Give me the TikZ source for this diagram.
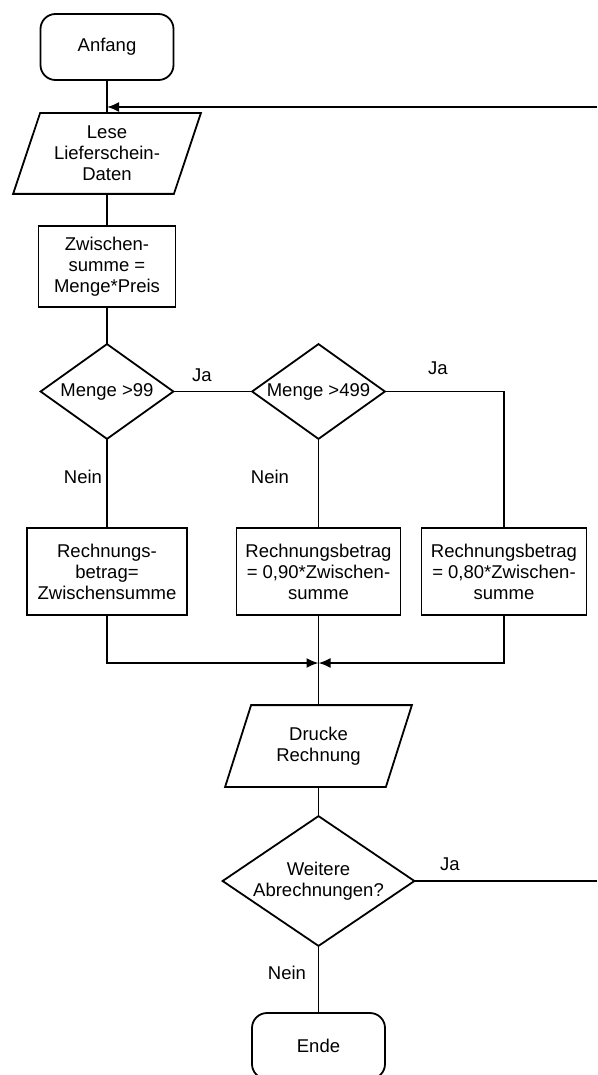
\documentclass[tikz,border=0pt]{standalone}
\usepackage{fontspec}
\setmainfont{Liberation Sans}
\usetikzlibrary{arrows.meta,calc}
\begin{document}
\begin{tikzpicture}[x=1pt,y=-1pt,line width=1.8pt,
  every node/.style={font=\fontsize{18.5}{21}\selectfont},
  base/.style={inner sep=0pt, align=center},
  term/.style={base, draw, rounded corners=15pt, minimum width=133pt, minimum height=66pt},
  proc/.style={base, draw, minimum height=87pt},
  io/.style={base, minimum height=80pt},
  decis/.style={base},
  arr/.style={-{Latex[length=12pt,width=10pt]}},
  lbl/.style={inner sep=0pt}
]
\useasboundingbox (0,0) rectangle (597,1075);

% nodes
\node[term] (anfang) at (107,47) {Anfang};
\node[io, minimum width=186pt, minimum height=79pt] (lese) at (107,153.5) {Lese\\Lieferschein-\\Daten};
\draw ($(lese.north west)+(27,0)$) -- (lese.north east) -- ($(lese.south east)+(-27,0)$) -- (lese.south west) -- cycle;
\node[proc, minimum width=137pt, minimum height=81pt] (zw) at (107,266.5) {Zwischen-\\summe =\\Menge*Preis};

\node[decis, minimum width=131pt, minimum height=93pt] (d1) at (107,391.5) {Menge >99};
\draw (d1.north) -- (d1.east) -- (d1.south) -- (d1.west) -- cycle;
\node[decis, minimum width=131pt, minimum height=93pt] (d2) at (318.5,391.5) {Menge >499};
\draw (d2.north) -- (d2.east) -- (d2.south) -- (d2.west) -- cycle;

\node[proc, minimum width=160pt] (b1) at (107,571.5) {Rechnungs-\\betrag=\\Zwischensumme};
\node[proc, minimum width=164pt] (b2) at (318.5,571.5) {Rechnungsbetrag\\= 0,90*Zwischen-\\summe};
\node[proc, minimum width=165pt] (b3) at (504,571.5) {Rechnungsbetrag\\= 0,80*Zwischen-\\summe};

\node[io, minimum width=185pt] (drucke) at (318.5,746) {Drucke\\Rechnung};
\draw ($(drucke.north west)+(26,0)$) -- (drucke.north east) -- ($(drucke.south east)+(-26,0)$) -- (drucke.south west) -- cycle;

\node[decis, minimum width=190pt, minimum height=128pt] (d3) at (318.5,881) {Weitere\\Abrechnungen?};
\draw (d3.north) -- (d3.east) -- (d3.south) -- (d3.west) -- cycle;

\node[term] (ende) at (318.5,1046) {Ende};

% coordinates
\coordinate (j1) at (107,107);
\coordinate (r1) at (597,107);
\coordinate (m) at (318.5,663);
\coordinate (r2) at (597,881);

% connectors
\draw (anfang.south) -- (lese.north);
\draw[arr] (r1) -- (j1);
\draw (lese.south) -- (zw.north);
\draw (zw.south) -- (d1.north);
\draw (d1.east) -- (d2.west);
\draw (d1.south) -- (b1.north);
\draw (d2.south) -- (b2.north);
\draw (d2.east) -| (b3.north);
\draw[arr] (b1.south) |- (m);
\draw[arr] (b3.south) |- (m);
\draw (b2.south) -- (drucke.north);
\draw (drucke.south) -- (d3.north);
\draw (d3.east) -- (r2);
\draw (d3.south) -- (ende.north);

% labels
\node[lbl] (ja1) at (202,375) {Ja};
\node[lbl] (ja2) at (438,368) {Ja};
\node[lbl] (nein1) at (83,477) {Nein};
\node[lbl] (nein2) at (270,477) {Nein};
\node[lbl] (ja3) at (450,864) {Ja};
\node[lbl] (nein3) at (287,973) {Nein};
\end{tikzpicture}
\end{document}
